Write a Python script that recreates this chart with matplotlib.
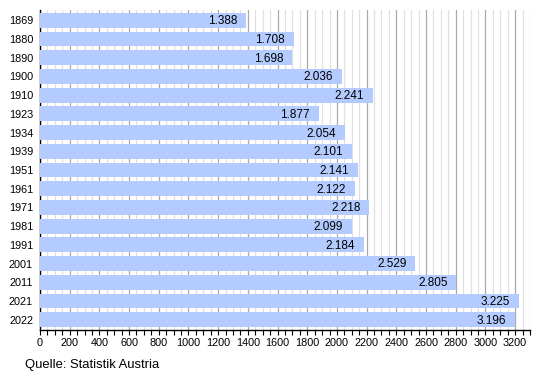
import numpy as np
import matplotlib.pyplot as plt
from matplotlib.ticker import MultipleLocator

plt.rcParams['font.family'] = ['Liberation Sans', 'DejaVu Sans']

# Einwohner (in Tausend)
years = ["1869", "1880", "1890", "1900", "1910", "1923", "1934", "1939", "1951",
         "1961", "1971", "1981", "1991", "2001", "2011", "2021", "2022"]
values = [1388, 1708, 1698, 2036, 2241, 1877, 2054, 2101, 2141,
          2122, 2218, 2099, 2184, 2529, 2805, 3225, 3196]
labels = ["1.388", "1.708", "1.698", "2.036", "2.241", "1.877", "2.054", "2.101", "2.141",
          "2.122", "2.218", "2.099", "2.184", "2.529", "2.805", "3.225", "3.196"]

fig = plt.figure(figsize=(5.5, 3.8), dpi=100)
ax = fig.add_axes([0.0727, 0.1316, 0.8909, 0.8421])

y = np.arange(len(years))
ax.barh(y, values, height=0.8, color="#b3cbff", zorder=3)
for yi, v, lab in zip(y, values, labels):
	ax.text(v - 60, yi + 0.05, lab, ha="right", va="center", fontsize=8.5, color="black", zorder=4)

ax.set_xlim(0, 3300)
ax.set_ylim(len(years) - 0.5 + 0.05, -0.5 - 0.05)
ax.set_yticks(y)
ax.set_yticklabels(years, fontsize=7.8)
ax.tick_params(axis="y", length=0, pad=5)

ax.xaxis.set_major_locator(MultipleLocator(200))
ax.xaxis.set_minor_locator(MultipleLocator(50))
ax.tick_params(axis="x", which="both", direction="out", length=3.5, width=0.8, labelsize=7.8, pad=2)
ax.grid(axis="x", which="major", color="#aaaaaa", linewidth=0.9, zorder=0)
ax.grid(axis="x", which="minor", color="#e0e0e0", linewidth=0.9, zorder=0)

for s in ["top", "right"]:
	ax.spines[s].set_visible(False)
ax.spines["left"].set_linewidth(1.0)
ax.spines["bottom"].set_linewidth(1.0)

fig.text(0.045, 0.039, "Quelle: Statistik Austria", fontsize=9.4, ha="left", va="center")

fig.savefig("out.png", dpi=100)
